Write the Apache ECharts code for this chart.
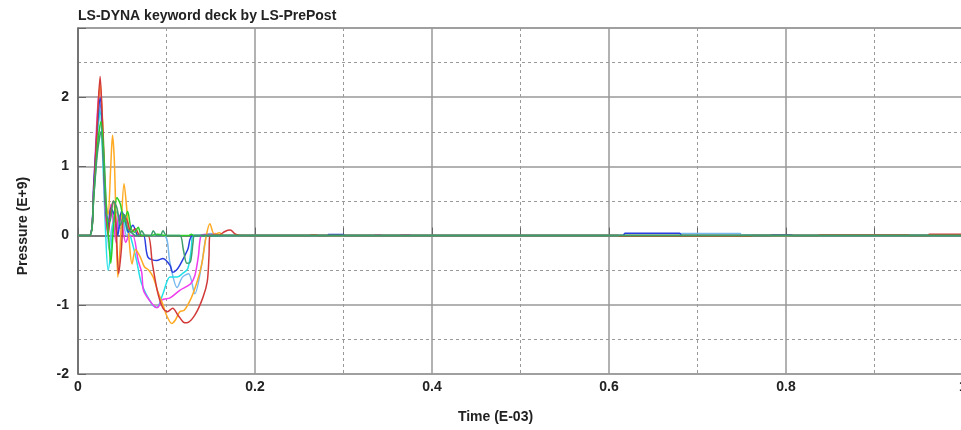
<!DOCTYPE html>
<html>
<head>
<meta charset="utf-8">
<script src="https://cdn.jsdelivr.net/npm/echarts@6/dist/echarts.min.js"></script>
<style>
  html, body { margin: 0; padding: 0; background: #fff; }
  #main { width: 961px; height: 430px; }
</style>
</head>
<body>
<div id="main"></div>
<script>
// time in E-03, pressure in E+9
const redData = [[0,0],[0.013,0],[0.018,0.7],[0.022,1.7],[0.025,2.3],[0.028,1.5],[0.031,0.5],[0.034,0],[0.037,0.35],[0.04,0.5],[0.043,0.1],[0.046,-0.55],[0.049,-0.2],[0.052,0.3],[0.056,0.2],[0.06,0.05],[0.065,0.1],[0.07,0],[0.079,0],[0.084,-0.4],[0.09,-0.82],[0.096,-1.05],[0.101,-1.1],[0.107,-1.05],[0.113,-1.15],[0.119,-1.25],[0.123,-1.26],[0.132,-1.15],[0.141,-0.9],[0.146,-0.67],[0.148,-0.3],[0.149,0],[0.16,0.01],[0.166,0.06],[0.172,0.08],[0.178,0.02],[0.185,0],[0.262,0],[0.263,0.01],[0.27,0.01],[0.271,0],[0.61,0],[0.612,-0.01],[0.76,-0.01],[0.762,0],[0.836,0],[0.838,0.01],[0.938,0.01],[0.94,0],[0.96,0],[0.962,0.02],[1,0.02]];
const blueData = [[0,0],[0.013,0],[0.018,0.8],[0.022,1.6],[0.025,2.0],[0.028,1.4],[0.031,0.5],[0.034,0.1],[0.037,0.4],[0.041,0.3],[0.045,0],[0.049,0.35],[0.053,0.25],[0.057,0.05],[0.062,0.15],[0.068,0],[0.074,0],[0.079,-0.31],[0.089,-0.36],[0.096,-0.33],[0.104,-0.43],[0.107,-0.53],[0.111,-0.5],[0.115,-0.43],[0.124,-0.2],[0.13,0],[0.282,0],[0.283,0.015],[0.3,0.015],[0.301,0],[0.616,0],[0.618,0.035],[0.68,0.035],[0.682,0],[0.782,0],[0.784,0.01],[0.806,0.01],[0.808,0],[1,0]];
const cyanData = [[0,0],[0.013,0],[0.018,0.7],[0.022,1.5],[0.025,1.8],[0.028,1.1],[0.031,0.1],[0.034,-0.5],[0.037,-0.25],[0.04,0.2],[0.044,0.35],[0.048,0.1],[0.052,0.2],[0.056,0.05],[0.059,0],[0.066,-0.35],[0.072,-0.7],[0.084,-1.0],[0.089,-1.04],[0.096,-0.84],[0.104,-0.6],[0.112,-0.6],[0.118,-0.55],[0.124,-0.48],[0.128,-0.2],[0.13,0],[0.75,0],[0.752,0.01],[0.78,0.01],[0.782,0],[0.938,0],[0.94,0.01],[0.96,0.01],[0.962,0],[1,0]];
const magentaData = [[0,0],[0.013,0],[0.018,0.8],[0.022,1.8],[0.025,2.15],[0.028,1.4],[0.031,0.3],[0.034,0.05],[0.037,0.45],[0.04,0.2],[0.043,-0.1],[0.046,0.3],[0.05,0.15],[0.054,-0.1],[0.058,0],[0.062,0],[0.068,-0.36],[0.072,-0.53],[0.074,-0.79],[0.081,-0.94],[0.087,-1.03],[0.09,-1.04],[0.095,-0.93],[0.104,-0.9],[0.115,-0.79],[0.127,-0.7],[0.132,-0.58],[0.136,-0.3],[0.139,0],[0.145,0.02],[0.15,0.01],[0.155,0.03],[0.16,0],[0.335,0],[0.336,0.012],[0.342,0.012],[0.343,0],[0.364,0],[0.365,0.012],[0.375,0.012],[0.376,0],[1,0]];
const orangeData = [[0,0],[0.013,0],[0.018,0.7],[0.022,1.6],[0.025,2.2],[0.028,1.6],[0.031,0.6],[0.034,0.3],[0.037,1.0],[0.039,1.45],[0.041,1.1],[0.043,0.2],[0.045,-0.6],[0.047,-0.3],[0.049,0.2],[0.052,0.75],[0.055,0.4],[0.058,-0.1],[0.061,-0.41],[0.065,-0.2],[0.07,-0.3],[0.075,-0.45],[0.08,-0.5],[0.085,-0.6],[0.09,-0.8],[0.096,-1.0],[0.1,-1.15],[0.106,-1.27],[0.11,-1.22],[0.115,-1.1],[0.12,-1.08],[0.128,-0.9],[0.135,-0.65],[0.14,-0.4],[0.145,0],[0.149,0.17],[0.154,0.02],[0.16,0.04],[0.165,0],[1,0]];
const lightBlueData = [[0,0],[0.013,0],[0.018,0.7],[0.022,1.5],[0.026,1.9],[0.029,1.3],[0.032,0.4],[0.035,-0.2],[0.038,0.1],[0.042,0.3],[0.046,0.1],[0.05,0.25],[0.055,0],[0.06,0.05],[0.065,0],[0.097,0],[0.104,-0.4],[0.112,-0.75],[0.118,-0.6],[0.125,-0.55],[0.132,-0.84],[0.14,-0.4],[0.145,0],[0.15,0.03],[0.16,0],[0.68,0],[0.682,0.03],[0.748,0.03],[0.75,0],[1,0]];
const greenData = [[0,0],[0.013,0],[0.018,0.6],[0.022,1.3],[0.026,1.65],[0.029,1.2],[0.032,0.4],[0.035,-0.1],[0.037,-0.4],[0.04,0.1],[0.044,0.55],[0.048,0.45],[0.052,0.2],[0.056,0.35],[0.06,0.1],[0.064,0.05],[0.068,0.12],[0.072,0],[0.08,0],[0.09,0.02],[0.1,0],[0.125,0],[0.128,0.02],[0.131,0],[1,0]];
const tealData = [[0,0],[0.013,0],[0.018,0.6],[0.022,1.2],[0.026,1.5],[0.029,1.0],[0.032,0.3],[0.036,0.2],[0.04,0.5],[0.044,0.4],[0.048,0.15],[0.052,0.3],[0.056,0.1],[0.06,0.05],[0.065,0],[0.069,0],[0.072,0.07],[0.076,0],[0.082,0],[0.085,0.07],[0.089,0],[0.093,0],[0.096,0.07],[0.1,0],[0.115,0],[0.119,-0.2],[0.123,-0.4],[0.127,-0.38],[0.13,-0.1],[0.132,0],[1,0]];

const seriesList = [
  { name: "A", color: "#78b8ec", data: lightBlueData },
  { name: "B", color: "#22e0e8", data: cyanData },
  { name: "C", color: "#ee3cee", data: magentaData },
  { name: "D", color: "#ffaa22", data: orangeData },
  { name: "E", color: "#2a3ee0", data: blueData },
  { name: "F", color: "#d23a3a", data: redData },
  { name: "G", color: "#28d028", data: greenData },
  { name: "H", color: "#3c9e6c", data: tealData },
];

const chart = echarts.init(document.getElementById("main"));

const labelFont = {
  fontFamily: "Liberation Sans Narrow, Liberation Sans, Arial",
  fontWeight: "bold",
  fontSize: 14,
  color: "#222",
};

chart.setOption({
  animation: false,
  title: {
    text: "LS-DYNA keyword deck by LS-PrePost",
    left: 73,
    top: 4,
    textStyle: { fontFamily: "Liberation Sans, Arial", fontWeight: "bold", fontSize: 14, color: "#222" },
  },
  grid: {
    left: 78, right: -2, top: 28, bottom: 56,
    outerBoundsMode: "none",
    show: true, borderColor: "#999", borderWidth: 1.5,
  },
  xAxis: {
    type: "value",
    min: 0,
    max: 1,
    interval: 0.2,
    name: "Time (E-03)",
    nameLocation: "middle",
    nameGap: 36,
    nameTextStyle: { ...labelFont, fontSize: 14, padding: [0, 50, 0, 0] },
    axisLine: { lineStyle: { color: "#666", width: 1.5 } },
    axisTick: { inside: true, length: 8, lineStyle: { color: "#666" } },
    minorTick: { show: true, splitNumber: 2, length: 8, lineStyle: { color: "#666" } },
    axisLabel: { ...labelFont, margin: 6, formatter: (v) => String(+v.toFixed(1)) },
    splitLine: { lineStyle: { color: "#999", width: 1.5 } },
    minorSplitLine: { show: true, lineStyle: { color: "#999", type: [3, 3] } },
  },
  yAxis: {
    type: "value",
    min: -2,
    max: 3,
    interval: 1,
    name: "Pressure (E+9)",
    nameLocation: "middle",
    nameGap: 48,
    nameTextStyle: { fontFamily: "Liberation Sans, Arial", fontWeight: "bold", fontSize: 14, color: "#222", padding: [0, 50, 0, 0] },
    axisLine: { lineStyle: { color: "#666", width: 1.5 } },
    axisTick: { inside: true, length: 8, lineStyle: { color: "#666" } },
    axisLabel: { ...labelFont, margin: 9, formatter: (v) => (v === 3 ? "" : String(v)) },
    splitLine: { lineStyle: { color: "#999", width: 1.5 } },
    minorSplitLine: { show: true, lineStyle: { color: "#999", type: [3, 3] } },
    minorTick: { show: true, splitNumber: 2, length: 0 },
  },
  series: seriesList.map((s) => ({
    name: s.name,
    type: "line",
    data: s.data,
    showSymbol: false,
    smooth: 0.3,
    lineStyle: { color: s.color, width: 1.5 },
    itemStyle: { color: s.color },
  })),
});
</script>
</body>
</html>
